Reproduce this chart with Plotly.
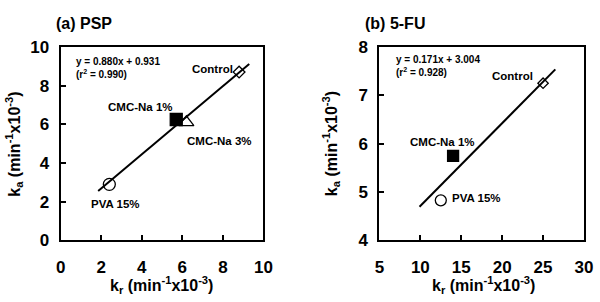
import plotly.graph_objects as go

# Panel (a) PSP
psp_labels = ["PVA 15%", "CMC-Na 1%", "CMC-Na 3%", "Control"]
psp_kr = [2.4, 5.7, 6.2, 8.8]
psp_ka = [2.9, 6.25, 6.1, 8.7]
psp_fit_x = [1.85, 9.3]
psp_slope, psp_intercept = 0.880, 0.931
psp_xticks = [0, 2, 4, 6, 8, 10]
psp_yticks = [0, 2, 4, 6, 8, 10]

# Panel (b) 5-FU
fu_labels = ["PVA 15%", "CMC-Na 1%", "Control"]
fu_kr = [12.5, 14.0, 25.0]
fu_ka = [4.83, 5.75, 7.25]
fu_fit_x = [9.9, 26.5]
fu_slope, fu_intercept = 0.171, 3.004
fu_xticks = [5, 10, 15, 20, 25, 30]
fu_yticks = [4, 5, 6, 7, 8]

FONT = "Liberation Sans"

fig = go.Figure()

symbols = {"PVA 15%": "circle-open", "CMC-Na 1%": "square", "CMC-Na 3%": "triangle-up-open", "Control": "diamond-open"}
sizes = {"PVA 15%": 12, "CMC-Na 1%": 12, "CMC-Na 3%": 13, "Control": 9}

# fit lines
fig.add_trace(go.Scatter(x=psp_fit_x, y=[psp_slope * v + psp_intercept for v in psp_fit_x],
                         mode="lines", line=dict(color="black", width=2), xaxis="x", yaxis="y"))
fig.add_trace(go.Scatter(x=fu_fit_x, y=[fu_slope * v + fu_intercept for v in fu_fit_x],
                         mode="lines", line=dict(color="black", width=2), xaxis="x2", yaxis="y2"))

for lab, x, y in zip(psp_labels, psp_kr, psp_ka):
    fig.add_trace(go.Scatter(x=[x], y=[y], mode="markers", xaxis="x", yaxis="y",
                             marker=dict(symbol=symbols[lab], size=sizes[lab], color="black",
                                         line=dict(color="black", width=1.3))))
for lab, x, y in zip(fu_labels, fu_kr, fu_ka):
    fig.add_trace(go.Scatter(x=[x], y=[y], mode="markers", xaxis="x2", yaxis="y2",
                             marker=dict(symbol=symbols[lab], size=sizes[lab] - 1, color="black",
                                         line=dict(color="black", width=1.3))))

def bold(vals):
    return ["<b>%g</b>" % v for v in vals]

def axis(rng, ticks, domain, anchor, standoff):
    return dict(range=rng, tickmode="array", tickvals=ticks, ticktext=bold(ticks),
                domain=domain, anchor=anchor, ticklabelstandoff=standoff,
                showline=True, linecolor="black", linewidth=2, mirror=True,
                ticks="inside", ticklen=5, tickwidth=1.5, tickcolor="black",
                showgrid=False, zeroline=False,
                tickfont=dict(family=FONT, size=17, color="black", weight=700))

ann = []
def add(text, x, y, size, xanchor="center", textangle=0):
    ann.append(dict(text="<b>" + text + "</b>", x=x, y=y, xref="paper", yref="paper", showarrow=False,
                    xanchor=xanchor, yanchor="middle", textangle=textangle,
                    font=dict(family=FONT, size=size, color="black")))

# titles
add("(a) PSP", 50 / 600, 1 - 15 / 302, 16, xanchor="left")
add("(b) 5-FU", 367 / 600, 1 - 15 / 302, 16, xanchor="left")
# axis titles
xt = "k<sub>r</sub> (min<sup>-1</sup>x10<sup>-3</sup>)"
yt = "k<sub>a</sub> (min<sup>-1</sup>x10<sup>-3</sup>)"
add(xt, 160 / 600, 1 - 295 / 302, 16)
add(xt, 490 / 600, 1 - 295 / 302, 16)
add(yt, 9 / 600, 1 - 144 / 302, 16, textangle=-90)
add(yt, 334 / 600, 1 - 144 / 302, 16, textangle=-90)
# equations
add("y = 0.880x + 0.931", 71 / 600, 1 - 56 / 302, 10, xanchor="left")
add("(r<sup>2</sup> = 0.990)", 71 / 600, 1 - 69 / 302, 10, xanchor="left")
add("y = 0.171x + 3.004", 398 / 600, 1 - 54 / 302, 10, xanchor="left")
add("(r<sup>2</sup> = 0.928)", 398 / 600, 1 - 67 / 302, 10, xanchor="left")
# point labels
add("Control", 212 / 600, 1 - 64 / 302, 11.5)
add("CMC-Na 1%", 139 / 600, 1 - 105 / 302, 11.5)
add("CMC-Na 3%", 220 / 600, 1 - 141 / 302, 11.5)
add("PVA 15%", 113 / 600, 1 - 208 / 302, 11.5)
add("Control", 520 / 600, 1 - 72 / 302, 11.5)
add("CMC-Na 1%", 448 / 600, 1 - 142 / 302, 11.5)
add("PVA 15%", 483 / 600, 1 - 202 / 302, 11.5)

fig.update_layout(
    width=600, height=302, margin=dict(l=0, r=0, t=0, b=0),
    font=dict(family=FONT, size=17, color="black"),
    paper_bgcolor="white", plot_bgcolor="white", annotations=ann, showlegend=False,
    xaxis=axis([0, 10], psp_xticks, [0.095, 0.441], "y", 10),
    yaxis=axis([0, 10], psp_yticks, [0.182, 0.866], "x", 6),
    xaxis2=axis([5, 30], fu_xticks, [0.639, 0.988], "y2", 10),
    yaxis2=axis([4, 8], fu_yticks, [0.182, 0.866], "x2", 6),
)

fig.write_html("out.html")
